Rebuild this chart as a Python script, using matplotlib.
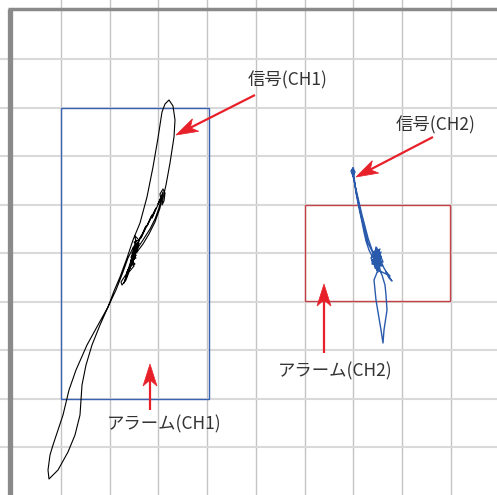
import matplotlib
matplotlib.use("Agg")
import matplotlib.pyplot as plt
import numpy as np
from matplotlib.patches import Rectangle, Polygon

plt.rcParams['font.family'] = ['Noto Sans CJK JP', 'DejaVu Sans']

# ---- data (screen-like units: x to the right, y downward) ----
grid_x = [60.75, 109.5, 158.25, 207.0, 255.75, 304.5, 353.25, 402.0, 450.75]
grid_y = [59.2, 107.7, 156.2, 204.7, 253.2, 301.7, 350.2, 398.7, 447.2]

ch1_x = [132, 137, 143, 150, 155, 159, 161, 160, 163, 165, 164, 162, 163, 166, 170, 174, 175, 173, 169,
         165, 162, 158, 153, 147, 140, 133, 127, 120, 114, 108, 100, 92, 86, 82, 81, 80, 75, 68, 58, 49,
         48, 50, 53, 58, 63, 69, 76, 87, 98, 108, 116, 123, 128, 134, 131, 137, 130, 136, 127, 133, 124,
         128, 135, 132, 139, 134, 141, 136, 146, 141, 152, 147, 156, 152, 161, 158, 163, 160, 155, 149,
         143, 137, 135, 139, 134, 138, 133, 137, 132, 136, 131, 135, 130, 133, 137, 134, 136, 132, 138,
         131, 134, 129, 126, 122, 121, 125, 130, 134]
ch1_y = [253, 249, 240, 229, 219, 208, 200, 194, 189, 193, 201, 205, 198, 185, 163, 137, 120, 106, 100,
         104, 112, 138, 167, 197, 223, 240, 258, 277, 291, 307, 325, 345, 365, 385, 400, 415, 435, 452, 470, 479,
         470, 455, 445, 430, 415, 390, 370, 345, 325, 307, 290, 272, 258, 246, 262, 250, 268, 255, 272, 260, 283,
         270, 248, 256, 243, 252, 236, 247, 226, 238, 215, 226, 208, 218, 198, 204, 192, 208, 222, 234,
         244, 252, 236, 240, 242, 246, 248, 252, 254, 258, 260, 264, 266, 258, 244, 250, 240, 262, 248,
         257, 266, 272, 280, 285, 282, 276, 268, 256]

ch2_x = [353, 351, 353, 355, 353, 356, 359, 362, 364, 366, 369, 372, 376, 373, 379, 375, 381, 377, 372,
         383, 378, 380, 376, 374, 378, 384, 388, 392, 389, 386, 390, 378, 374, 376, 379, 381, 383, 384, 387,
         386, 385, 382, 377, 374, 380, 372, 378, 375, 368, 365, 361, 357, 354, 352, 355, 362, 368, 372,
         374, 380, 373, 381, 375, 379, 372, 382, 376, 378, 371, 377, 380, 374, 376, 379, 375, 377]
ch2_y = [168, 171, 176, 172, 168, 193, 208, 222, 232, 241, 250, 256, 262, 252, 258, 266, 256, 270, 260,
         262, 250, 265, 247, 258, 255, 268, 275, 281, 278, 272, 276, 270, 280, 300, 318, 330, 343, 330, 310,
         295, 285, 275, 265, 255, 249, 262, 268, 257, 243, 232, 215, 196, 180, 170, 185, 215, 238, 250,
         254, 262, 260, 252, 268, 250, 264, 266, 256, 272, 258, 248, 270, 262, 258, 255, 260, 264]

alarm_ch1 = (60.5, 108.0, 148.0, 291.0)   # x, y, width, height
alarm_ch2 = (304.5, 204.7, 145.5, 96.0)

labels = ['信号(CH1)', '信号(CH2)', 'アラーム(CH1)', 'アラーム(CH2)']
label_x = [288, 436, 164, 335]
label_y = [80, 125, 424, 371]
arrow_tail = [(255, 95), (433, 137), (150, 410), (324, 353)]
arrow_tip = [(176, 135), (356, 177), (150, 364), (324, 284)]

# ---- figure ----
fig = plt.figure(figsize=(4.97, 4.95), dpi=100)
ax = fig.add_axes([0, 0, 1, 1])
ax.set_xlim(0, 497)
ax.set_ylim(495, 0)
ax.set_axis_off()

for gx in grid_x:
    ax.axvline(gx, color='#c4c4c4', lw=1.0, zorder=1)
for gy in grid_y:
    ax.axhline(gy, color='#d9d9d9', lw=1.5, zorder=1)

# frame (left & top)
ax.plot([9.5, 9.5], [8.5, 500], color='#8a8a8a', lw=3.8, solid_capstyle='butt', zorder=2)
ax.plot([7.6, 500], [8.6, 8.6], color='#8a8a8a', lw=2.5, solid_capstyle='butt', zorder=2)

ax.add_patch(Rectangle(alarm_ch1[:2], alarm_ch1[2], alarm_ch1[3], fill=False,
                       edgecolor='#3a62b2', lw=1.0, zorder=3))
ax.add_patch(Rectangle(alarm_ch2[:2], alarm_ch2[2], alarm_ch2[3], fill=False,
                       edgecolor='#c0282e', lw=1.0, alpha=0.85, zorder=3))

ax.plot(ch1_x, ch1_y, color='black', lw=0.8, zorder=4)
ax.plot(ch2_x, ch2_y, color='#2a5aac', lw=1.0, zorder=4)

red = '#e8202a'
L, W, N = 22.0, 7.0, 6.0
for (tx, ty), (hx, hy) in zip(arrow_tail, arrow_tip):
    d = np.array([hx - tx, hy - ty], float)
    d /= np.hypot(*d)
    n = np.array([-d[1], d[0]])
    tip = np.array([hx, hy], float)
    back = tip - L * d
    notch = tip - (L - N) * d
    ax.plot([tx, notch[0]], [ty, notch[1]], color=red, lw=1.6, zorder=5,
            solid_capstyle='butt')
    ax.add_patch(Polygon([tip, back + W * n, notch, back - W * n], closed=True,
                         facecolor=red, edgecolor=red, lw=0.5, zorder=5))

for s, x, y in zip(labels, label_x, label_y):
    ax.text(x, y, s, ha='center', va='center', fontsize=12.5, color='#333333', zorder=6)

fig.savefig('out.png', dpi=100)
